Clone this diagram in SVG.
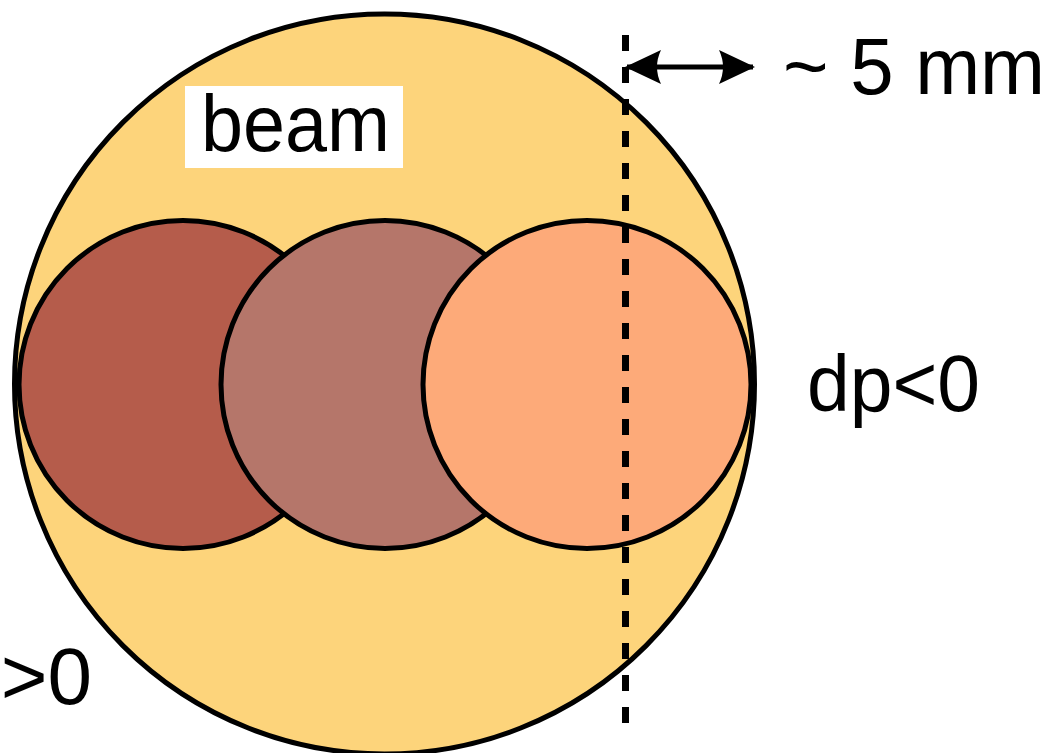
<svg xmlns="http://www.w3.org/2000/svg" width="1052" height="753" viewBox="0 0 1052 753">
  <style>
    .outline { stroke: #000; stroke-width: 5; }
    .lbl { font-family: "Liberation Sans", Arial, sans-serif; font-size: 80px; fill: #000; }
  </style>
  <defs>
    <marker id="ah" viewBox="0 0 36 34" refX="34" refY="17" markerWidth="36" markerHeight="34" markerUnits="userSpaceOnUse" orient="auto-start-reverse">
      <path d="M0,0 L36,17 L0,34 Q8,17 0,0 Z" fill="#000"/>
    </marker>
  </defs>
  <rect width="1052" height="753" fill="#fff"/>
  <g id="beam">
    <circle cx="384.5" cy="384" r="370" fill="#FDD47B" class="outline"/>
    <rect x="185" y="86" width="218" height="82" fill="#fff"/>
    <text x="201" y="151" class="lbl" textLength="189" lengthAdjust="spacingAndGlyphs">beam</text>
  </g>
  <g id="spot-left">
    <circle cx="183" cy="384.5" r="164" fill="#B55C4B" class="outline"/>
  </g>
  <g id="spot-middle">
    <circle cx="385" cy="384.5" r="164" fill="#B5766A" class="outline"/>
  </g>
  <g id="spot-right">
    <circle cx="587" cy="384.5" r="164" fill="#FDAA79" class="outline"/>
  </g>
  <g id="connectors">
    <line x1="625.5" y1="35" x2="625.5" y2="723" stroke="#000" stroke-width="7" stroke-dasharray="16 16"/>
    <line x1="627" y1="67" x2="753" y2="67" stroke="#000" stroke-width="5" marker-start="url(#ah)" marker-end="url(#ah)"/>
  </g>
  <g id="labels">
    <text x="783" y="94" class="lbl" textLength="262" lengthAdjust="spacingAndGlyphs">~ 5 mm</text>
    <text x="807" y="411" class="lbl" textLength="173" lengthAdjust="spacingAndGlyphs">dp&lt;0</text>
    <text x="92" y="704" class="lbl" text-anchor="end">&gt;0</text>
  </g>
</svg>
